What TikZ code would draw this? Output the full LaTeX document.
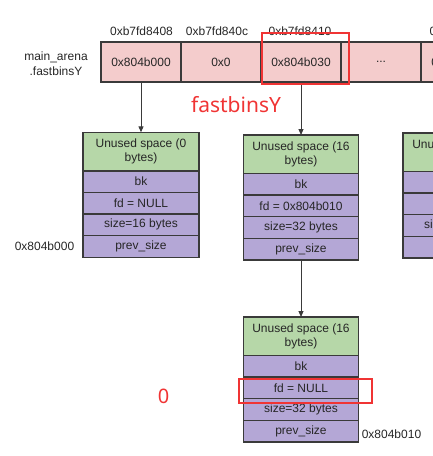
\documentclass[tikz,border=0pt]{standalone}
\usepackage{fontspec}
\setmainfont{Liberation Sans}
\newfontfamily\notefont{Noto Sans}
\usetikzlibrary{arrows.meta}
\definecolor{cellpink}{HTML}{F4CCCC}
\definecolor{usedgreen}{HTML}{B6D7A8}
\definecolor{fieldpurple}{HTML}{B4A7D6}
\definecolor{edgegray}{HTML}{3A3A3A}
\definecolor{annotred}{RGB}{240,52,52}
\tikzset{
  txt/.style={font=\fontsize{12}{14.4}\selectfont, text=black!85},
  cell/.style={txt, draw=edgegray, line width=1.4pt, fill=cellpink, minimum width=80pt, minimum height=40pt, inner sep=0pt, outer sep=0pt},
  unused/.style={txt, draw=edgegray, line width=1.4pt, fill=usedgreen, minimum height=38.5pt, inner sep=0pt, outer sep=0pt, align=center},
  field/.style={txt, draw=edgegray, line width=1.4pt, fill=fieldpurple, minimum height=21.6pt, inner sep=0pt, outer sep=0pt},
  ptr/.style={draw=edgegray, line width=1pt, -{Triangle[length=6pt,width=5pt]}},
  annot/.style={draw=annotred, line width=2pt},
  notetxt/.style={text=annotred, font=\notefont\fontsize{21}{24}\selectfont, inner sep=0pt},
  addr/.style={txt, inner sep=0pt},
}
\newcommand{\chunkbox}[9]{%
  \node[unused, minimum width=#4, anchor=north] (#1-g) at (#2,#3) {#5};
  \node[field, minimum width=#4, anchor=north] (#1-bk) at (#1-g.south) {#6};
  \node[field, minimum width=#4, anchor=north] (#1-fd) at (#1-bk.south) {#7};
  \node[field, minimum width=#4, anchor=north] (#1-sz) at (#1-fd.south) {#8};
  \node[field, minimum width=#4, anchor=north] (#1-ps) at (#1-sz.south) {#9};
}
\begin{document}
\begin{tikzpicture}[x=1pt,y=-1pt]
\useasboundingbox (0,0) rectangle (433,456);
\clip (0,0) rectangle (433,456);

% fastbinsY array
\node[cell] (c1) at (141,62) {0x804b000};
\node[cell] (c2) at (221,62) {0x0};
\node[cell] (c3) at (301,62) {0x804b030};
\node[cell] (c4) at (381,62) {...};
\node[cell] (c5) at (461,62) {0x804b060};

\node[addr] (h1) at (141.5,31.5) {0xb7fd8408};
\node[addr] (h2) at (217,31.5) {0xb7fd840c};
\node[addr] (h3) at (300,31.5) {0xb7fd8410};
\node[addr] (h5) at (461,31.5) {0xb7fd8414};

\node[addr, align=center, font=\fontsize{12}{15}\selectfont] (arena) at (56,64) {main\_arena\\.fastbinsY};

% chunks
\chunkbox{b1}{141}{132.3}{116pt}{Unused space (0\\bytes)}{bk}{fd = NULL}{size=16 bytes}{prev\_size}
\chunkbox{b2}{301}{135}{115pt}{Unused space (16\\bytes)}{bk}{fd = 0x804b010}{size=32 bytes}{prev\_size}
\chunkbox{b3}{461}{133}{116pt}{Unused space (32\\bytes)}{bk}{fd = NULL}{size=48 bytes}{prev\_size}
\chunkbox{b4}{301}{317}{115pt}{Unused space (16\\bytes)}{bk}{fd = NULL}{size=32 bytes}{prev\_size}

\node[addr] (a1) at (44.5,246.5) {0x804b000};
\node[addr] (a4) at (391.5,434.3) {0x804b010};

% pointers
\draw[ptr] (c1.south) -- (b1-g.north);
\draw[ptr] (c3.south) -- (b2-g.north);
\draw[ptr] (b2-ps.south) -- (b4-g.north);

% annotations
\draw[annot] (262,33) rectangle (349,84);
\draw[annot] (238.5,379) rectangle (372.3,403.3);
\node[notetxt] (n1) at (236,105) {fastbinsY};
\node[notetxt, font=\notefont\fontsize{20}{24}\selectfont] (n2) at (163.7,396.7) {0};
\end{tikzpicture}
\end{document}
